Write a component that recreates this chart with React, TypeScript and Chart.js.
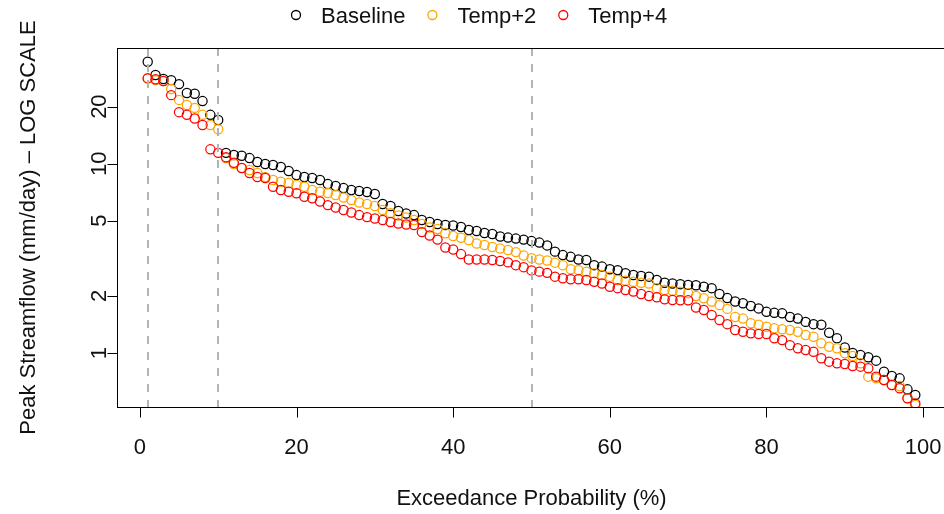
import React, { useEffect, useRef } from "react";
import { Chart, registerables } from "chart.js";

Chart.register(...registerables);

// Exceedance probability (%) of each ranked event
const exceedance = [
  1, 2, 3, 4, 5, 6, 7, 8, 9, 10, 11, 12, 13, 14, 15, 16, 17, 18, 19, 20,
  21, 22, 23, 24, 25, 26, 27, 28, 29, 30, 31, 32, 33, 34, 35, 36, 37, 38, 39, 40,
  41, 42, 43, 44, 45, 46, 47, 48, 49, 50, 51, 52, 53, 54, 55, 56, 57, 58, 59, 60,
  61, 62, 63, 64, 65, 66, 67, 68, 69, 70, 71, 72, 73, 74, 75, 76, 77, 78, 79, 80,
  81, 82, 83, 84, 85, 86, 87, 88, 89, 90, 91, 92, 93, 94, 95, 96, 97, 98, 99,
];

// Peak streamflow (mm/day)
const baseline = [
  34.5, 29.4, 28.0, 27.6, 26.3, 23.6, 23.4, 21.4, 18.1, 17.0,
  11.4, 11.1, 11.0, 10.7, 10.2, 9.95, 9.83, 9.6, 9.14, 8.7,
  8.5, 8.4, 8.2, 7.8, 7.62, 7.43, 7.26, 7.17, 7.08, 6.91,
  6.12, 5.97, 5.62, 5.45, 5.35, 5.04, 4.92, 4.8, 4.74, 4.71,
  4.63, 4.46, 4.41, 4.3, 4.25, 4.12, 4.07, 4.02, 3.97, 3.9,
  3.83, 3.7, 3.43, 3.29, 3.22, 3.12, 3.1, 2.91, 2.86, 2.77,
  2.74, 2.64, 2.58, 2.55, 2.53, 2.43, 2.35, 2.33, 2.31, 2.29,
  2.28, 2.24, 2.2, 2.05, 1.95, 1.87, 1.83, 1.77, 1.72, 1.65,
  1.63, 1.62, 1.55, 1.52, 1.46, 1.42, 1.41, 1.28, 1.196, 1.07,
  1.0, 0.976, 0.949, 0.911, 0.797, 0.756, 0.735, 0.643, 0.6,
];

const temp2 = [
  28.3, 27.6, 27.3, 24.8, 21.7, 20.4, 19.7, 18.1, 16.0, 15.2,
  10.7, 9.95, 9.48, 9.25, 8.92, 8.5, 8.2, 8.02, 7.9, 7.71,
  7.55, 7.26, 7.11, 7.0, 6.83, 6.62, 6.43, 6.23, 6.12, 5.97,
  5.69, 5.48, 5.32, 5.19, 5.04, 4.8, 4.6, 4.52, 4.29, 4.15,
  4.06, 3.95, 3.79, 3.72, 3.63, 3.56, 3.5, 3.41, 3.27, 3.17,
  3.12, 3.08, 3.0, 2.91, 2.77, 2.74, 2.69, 2.64, 2.58, 2.53,
  2.43, 2.41, 2.38, 2.35, 2.33, 2.2, 2.15, 2.13, 2.11, 2.07,
  2.0, 1.945, 1.87, 1.79, 1.71, 1.55, 1.52, 1.435, 1.41, 1.377,
  1.35, 1.334, 1.323, 1.296, 1.245, 1.219, 1.125, 1.08, 1.059, 0.996,
  0.964, 0.882, 0.75, 0.735, 0.72, 0.678, 0.67, 0.577, 0.531,
];

const temp4 = [
  28.2, 27.9, 27.3, 23.0, 18.7, 18.1, 17.3, 16.0, 11.9, 11.4,
  10.8, 10.1, 9.48, 8.92, 8.5, 8.4, 7.55, 7.26, 7.11, 6.97,
  6.69, 6.56, 6.31, 6.04, 5.87, 5.69, 5.52, 5.35, 5.22, 5.13,
  5.04, 4.92, 4.83, 4.77, 4.74, 4.35, 4.17, 3.97, 3.61, 3.52,
  3.33, 3.12, 3.12, 3.12, 3.1, 3.06, 3.01, 2.91, 2.84, 2.73,
  2.69, 2.65, 2.53, 2.48, 2.45, 2.45, 2.43, 2.38, 2.33, 2.24,
  2.2, 2.15, 2.11, 2.05, 2.0, 1.97, 1.92, 1.905, 1.9, 1.9,
  1.74, 1.687, 1.587, 1.494, 1.42, 1.323, 1.296, 1.27, 1.26, 1.26,
  1.196, 1.17, 1.1, 1.059, 1.037, 1.016, 0.938, 0.9, 0.882, 0.875,
  0.854, 0.847, 0.83, 0.75, 0.72, 0.678, 0.651, 0.577, 0.542,
];

const seriesNames = ["Baseline", "Temp+2", "Temp+4"];
const seriesColors = ["#000000", "#FFA500", "#FF0000"];
const xTicks = [0, 20, 40, 60, 80, 100];
const yTicks = [1, 2, 5, 10, 20];
const refLines = [1, 10, 50];
const xTitle = "Exceedance Probability (%)";
const yTitle = "Peak Streamflow (mm/day) \u2013 LOG SCALE";

const FONT = '22px "Liberation Sans", Arial, Helvetica, sans-serif';
const TEXT = "#111111";

const rPlot = {
  id: "rPlot",
  afterDatasetsDraw(chart: any) {
    const { ctx, chartArea: a } = chart;
    const x = chart.scales.x;
    ctx.save();
    ctx.beginPath();
    ctx.rect(a.left, a.top, a.right - a.left, a.bottom - a.top);
    ctx.clip();
    ctx.strokeStyle = "#b4b4b4";
    ctx.lineWidth = 2;
    ctx.setLineDash([8, 8]);
    refLines.forEach((v) => {
      const px = Math.round(x.getPixelForValue(v));
      ctx.beginPath();
      ctx.moveTo(px, a.top);
      ctx.lineTo(px, a.bottom);
      ctx.stroke();
    });
    ctx.restore();
  },
  afterDraw(chart: any) {
    const { ctx, chartArea: a } = chart;
    const x = chart.scales.x;
    const y = chart.scales.y;
    ctx.save();
    // box
    ctx.strokeStyle = "#000";
    ctx.lineWidth = 1;
    ctx.strokeRect(Math.round(a.left) + 0.5, Math.round(a.top) + 0.5, Math.round(a.right - a.left), Math.round(a.bottom - a.top));

    ctx.fillStyle = TEXT;
    ctx.font = FONT;
    const tick = 10;
    // x axis
    const bx = Math.round(a.bottom) + 0.5;
    ctx.beginPath();
    ctx.moveTo(x.getPixelForValue(xTicks[0]), bx);
    ctx.lineTo(x.getPixelForValue(xTicks[xTicks.length - 1]), bx);
    xTicks.forEach((v) => {
      const px = Math.round(x.getPixelForValue(v)) + 0.5;
      ctx.moveTo(px, bx);
      ctx.lineTo(px, bx + tick);
    });
    ctx.stroke();
    ctx.textAlign = "center";
    ctx.textBaseline = "alphabetic";
    xTicks.forEach((v) => {
      ctx.fillText(String(v), x.getPixelForValue(v), a.bottom + 47);
    });
    // y axis
    const lx = Math.round(a.left) + 0.5;
    ctx.beginPath();
    ctx.moveTo(lx, y.getPixelForValue(yTicks[0]));
    ctx.lineTo(lx, y.getPixelForValue(yTicks[yTicks.length - 1]));
    yTicks.forEach((v) => {
      const py = Math.round(y.getPixelForValue(v)) + 0.5;
      ctx.moveTo(lx, py);
      ctx.lineTo(lx - tick, py);
    });
    ctx.stroke();
    yTicks.forEach((v) => {
      ctx.save();
      ctx.translate(a.left - 11, y.getPixelForValue(v));
      ctx.rotate(-Math.PI / 2);
      ctx.fillText(String(v), 0, 0);
      ctx.restore();
    });
    // titles
    ctx.fillText(xTitle, (a.left + a.right) / 2, 505);
    ctx.save();
    ctx.translate(35, (a.top + a.bottom) / 2);
    ctx.rotate(-Math.PI / 2);
    ctx.fillText(yTitle, 0, 0);
    ctx.restore();

    // legend
    ctx.textAlign = "left";
    let cx = 296;
    const ly = 15;
    seriesNames.forEach((name, i) => {
      ctx.beginPath();
      ctx.strokeStyle = seriesColors[i];
      ctx.lineWidth = 1.3;
      ctx.arc(cx, ly, 4.5, 0, Math.PI * 2);
      ctx.stroke();
      ctx.fillStyle = TEXT;
      ctx.fillText(name, cx + 25, ly + 8);
      cx += 25 + ctx.measureText(name).width + 27;
    });
    ctx.restore();
  },
};

export default function App() {
  const ref = useRef<HTMLCanvasElement | null>(null);
  useEffect(() => {
    if (!ref.current) return;
    const series = [baseline, temp2, temp4];
    const chart = new Chart(ref.current, {
      type: "scatter",
      data: {
        datasets: series.map((vals, i) => ({
          label: seriesNames[i],
          data: vals.map((v, j) => ({ x: exceedance[j], y: v })),
          borderColor: seriesColors[i],
          backgroundColor: "rgba(0,0,0,0)",
          pointRadius: 4.6,
          pointBorderWidth: 1.25,
          pointStyle: "circle",
          showLine: false,
          order: 2 - i,
          clip: 0,
        })),
      },
      options: {
        animation: false,
        responsive: false,
        devicePixelRatio: 1,
        events: [],
        layout: { padding: { left: 117, top: 48, right: 14, bottom: 107 } },
        plugins: { legend: { display: false }, tooltip: { enabled: false } },
        scales: {
          x: { type: "linear", min: -2.92, max: 102.92, display: false },
          y: { type: "logarithmic", min: 0.5187, max: 40.8, display: false },
        },
      },
      plugins: [rPlot],
    });
    return () => chart.destroy();
  }, []);
  return (
    <div style={{ position: "fixed", left: 0, top: 0, width: 944, height: 514, overflow: "hidden", background: "#fff" }}>
      <canvas ref={ref} width={960} height={514} style={{ display: "block", width: 960, height: 514 }} />
    </div>
  );
}
